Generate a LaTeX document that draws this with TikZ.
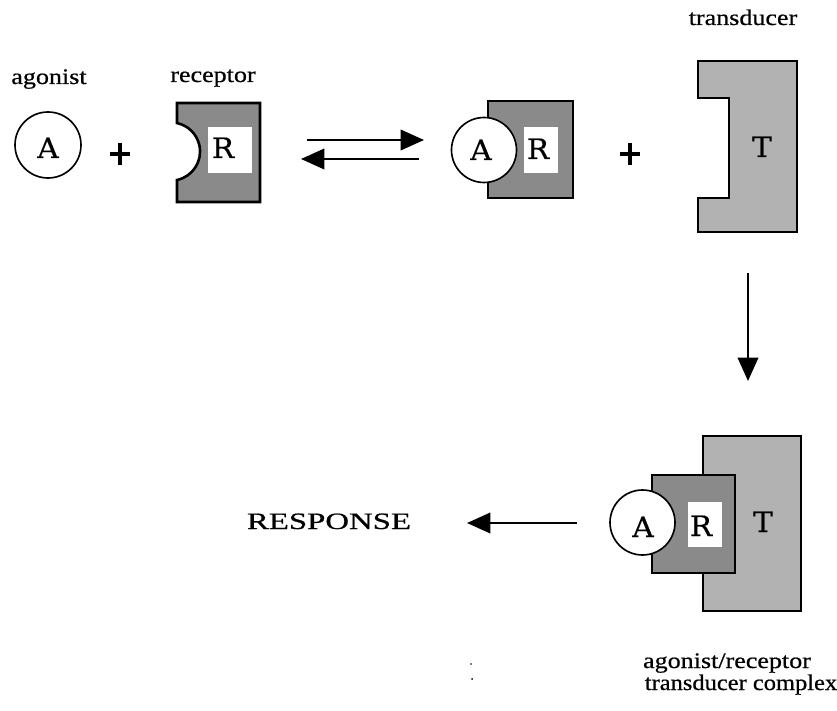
\documentclass[tikz,border=0pt]{standalone}
\usepackage{fontspec}
\setmainfont{Liberation Serif}[FakeBold=0.6]
\newfontfamily\letterfont{DejaVu Serif}[FakeBold=0.4]
\usetikzlibrary{arrows.meta}
\definecolor{rgray}{gray}{0.54}
\definecolor{tgray}{gray}{0.7}
\begin{document}
\begin{tikzpicture}[x=0.03cm,y=-0.03cm,
  lbl/.style={anchor=base,font=\fontsize{19}{22}\selectfont,xscale=1.17,inner sep=0},
  bigword/.style={anchor=base,font=\fontsize{20}{24}\selectfont,xscale=1.4,inner sep=0},
  sym/.style={anchor=base,font=\letterfont\fontsize{24}{27}\selectfont,xscale=1.05,inner sep=0},
  rbox/.style={draw=black,line width=2.2pt,fill=rgray},
  tbox/.style={draw=black,line width=2.2pt,fill=tgray},
  cline/.style={draw=black,line width=1.4pt,fill=white},
  plus/.style={line width=3pt},
  arr/.style={line width=2pt,-{Triangle[length=20pt,width=17.5pt]}}]
\useasboundingbox (0,0) rectangle (837,711);

% labels
\node[lbl] (lagonist) at (49,84) {agonist};
\node[lbl] (lreceptor) at (213,82) {receptor};
\node[lbl] (ltransducer) at (743,25) {transducer};
\node[lbl] (lcomplex1) at (727,668) {agonist/receptor};
\node[lbl,xscale=0.94] (lcomplex2) at (741,690) {transducer complex};

% free agonist
\draw[cline] (48,145) circle[radius=33];
\node[sym] (a1) at (48,158) {A};

% plus signs
\coordinate (p1) at (120,154);
\draw[plus] ([xshift=-8.5]p1) -- ([xshift=8.5]p1) ([yshift=-9]p1) -- ([yshift=9]p1);
\coordinate (p2) at (630,154);
\draw[plus] ([xshift=-8.5]p2) -- ([xshift=8.5]p2) ([yshift=-9]p2) -- ([yshift=9]p2);

% free receptor with binding pocket
\path[rbox] (177,103) -- (260,103) -- (260,202) -- (177,202) -- (177,180)
  arc[start angle=78,end angle=-78,radius=29.1] -- cycle;
\fill[white] (208,127) rectangle (252,173);
\node[sym] (r1) at (223,158) {R};

% equilibrium arrows
\coordinate (fwdS) at (307,140);
\coordinate (fwdE) at (424,140);
\coordinate (bwdS) at (419,159);
\coordinate (bwdE) at (301,159);
\draw[arr] (fwdS) -- (fwdE);
\draw[arr] (bwdS) -- (bwdE);

% agonist/receptor complex
\path[rbox] (488,101) rectangle (573,198);
\fill[white] (524,127) rectangle (558,173);
\draw[cline] (484,150) circle[radius=32.5];
\node[sym] (a2) at (481,160) {A};
\node[sym] (r2) at (538,159) {R};

% transducer
\path[tbox] (698,61) -- (797,61) -- (797,232) -- (698,232) -- (698,198)
  -- (729,198) -- (729,98) -- (698,98) -- cycle;
\node[sym] (t1) at (762,157) {T};

% coupling arrow
\coordinate (downS) at (748,273);
\coordinate (downE) at (748,381);
\draw[arr] (downS) -- (downE);

% ternary complex
\path[tbox] (703,436) rectangle (801,611);
\path[rbox] (652,475) rectangle (735,573);
\fill[white] (688,502) rectangle (722,547);
\draw[cline] (642.5,522.5) circle[radius=32.5];
\node[sym] (a3) at (643,537) {A};
\node[sym] (r3) at (701,536) {R};
\node[sym] (t3) at (763,532) {T};

% response
\node[bigword] (resp) at (329,529) {RESPONSE};
\coordinate (respS) at (577,523);
\coordinate (respE) at (467,523);
\draw[arr] (respS) -- (respE);

% specks
\fill (471,664) circle[radius=0.8];
\fill (472,679) circle[radius=1];
\end{tikzpicture}
\end{document}
